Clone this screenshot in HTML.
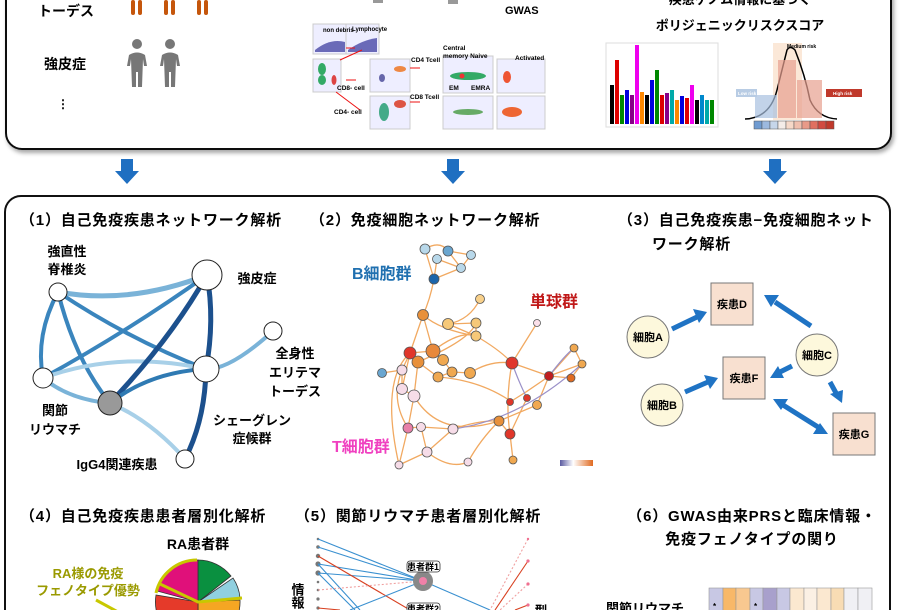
<!DOCTYPE html>
<html><head><meta charset="utf-8"><style>
html,body{margin:0;padding:0;background:#fff;width:900px;height:610px;overflow:hidden}
svg{display:block}
text{font-family:"Liberation Sans","Noto Sans CJK JP",sans-serif;font-weight:bold}
.t{font-size:15px;letter-spacing:0.8px}
</style></head><body>
<svg width="900" height="610" viewBox="0 0 900 610" xmlns="http://www.w3.org/2000/svg">
<defs>
<filter id="sh" x="-5%" y="-5%" width="110%" height="110%"><feDropShadow dx="2" dy="3" stdDeviation="2" flood-color="#000" flood-opacity="0.35"/></filter>
</defs>
<!-- top box -->
<rect x="6" y="-30" width="885" height="179" rx="16" fill="#fff" stroke="#111" stroke-width="2" filter="url(#sh)"/>
<text x="38" y="16" font-size="14">トーデス</text>
<g fill="#c5560c"><rect x="131" y="0" width="4" height="15" rx="2"/><rect x="138" y="0" width="4" height="15" rx="2"/><rect x="164" y="0" width="4" height="15" rx="2"/><rect x="171" y="0" width="4" height="15" rx="2"/><rect x="197" y="0" width="4" height="15" rx="2"/><rect x="204" y="0" width="4" height="15" rx="2"/></g>
<text x="44" y="69" font-size="14">強皮症</text>
<g fill="#777">
<circle cx="137" cy="44" r="5"/><path d="M127 66 L129 55 Q137 50 145 55 L147 66 L144 66 L143 59 L142 87 L138 87 L138 72 L136 72 L136 87 L132 87 L131 59 L130 66Z"/>
<circle cx="170" cy="44" r="5"/><path d="M160 66 L162 55 Q170 50 178 55 L180 66 L177 66 L176 59 L175 87 L171 87 L171 72 L169 72 L169 87 L165 87 L164 59 L163 66Z"/>
</g>
<text x="57" y="108" font-size="12">⋮</text>
<!-- flow cytometry -->
<g font-size="6.5">
<rect x="373" y="0" width="10" height="3" fill="#999"/><rect x="448" y="0" width="10" height="4" fill="#999"/>
<rect x="313" y="24" width="33" height="30" fill="#eef" stroke="#ccc"/><path d="M315 50 Q330 38 345 42 L345 52 L315 52Z" fill="#6a6ab8"/>
<rect x="346" y="24" width="33" height="30" fill="#eef" stroke="#ccc"/><path d="M348 50 Q362 40 377 38 L377 52 L348 52Z" fill="#6a6ab8"/>
<text x="323" y="32" font-size="6">non debris</text><text x="352" y="31" font-size="6">Lymphocyte</text>
<rect x="313" y="59" width="28" height="33" fill="#eef" stroke="#ccc"/><ellipse cx="322" cy="69" rx="4" ry="6" fill="#3a6"/><ellipse cx="322" cy="80" rx="4" ry="5" fill="#3a6"/><ellipse cx="334" cy="80" rx="2.5" ry="5" fill="#d44"/>
<rect x="370" y="59" width="40" height="33" fill="#eef" stroke="#ccc"/><ellipse cx="400" cy="69" rx="6" ry="3" fill="#e84"/><ellipse cx="382" cy="78" rx="3" ry="4" fill="#66a"/>
<rect x="370" y="96" width="40" height="33" fill="#eef" stroke="#ccc"/><ellipse cx="384" cy="112" rx="5" ry="9" fill="#4a8"/><ellipse cx="400" cy="104" rx="6" ry="4" fill="#d54"/>
<rect x="443" y="56" width="50" height="37" fill="#eef" stroke="#ccc"/><ellipse cx="468" cy="76" rx="18" ry="4" fill="#3a6"/><circle cx="462" cy="76" r="2.5" fill="#e33"/>
<rect x="443" y="96" width="50" height="33" fill="#eef" stroke="#ccc"/><ellipse cx="468" cy="112" rx="15" ry="3" fill="#6a6"/>
<rect x="497" y="59" width="48" height="34" fill="#eef" stroke="#ccc"/><ellipse cx="507" cy="77" rx="4" ry="6" fill="#e53"/>
<rect x="497" y="96" width="48" height="33" fill="#eef" stroke="#ccc"/><ellipse cx="512" cy="112" rx="10" ry="5" fill="#e63"/>
<g stroke="#e11" stroke-width="1" fill="none"><path d="M346 48 L355 48"/><path d="M340 60 L362 50"/><path d="M346 80 L356 80"/><path d="M336 92 L360 110"/><path d="M410 68 L420 68"/><path d="M410 102 L420 102"/></g>
<text x="411" y="62">CD4 Tcell</text><text x="443" y="50">Central</text><text x="443" y="58">memory Naive</text><text x="515" y="60">Activated</text>
<text x="337" y="90">CD8- cell</text><text x="410" y="99">CD8 Tcell</text><text x="449" y="90">EM</text><text x="471" y="90">EMRA</text><text x="334" y="114">CD4- cell</text>
</g>
<text x="505" y="14" font-size="11">GWAS</text>
<text x="740" y="4" font-size="13" text-anchor="middle">疾患ゲノム情報に基づく</text>
<text x="740" y="30" font-size="13" text-anchor="middle">ポリジェニックリスクスコア</text>
<!-- manhattan -->
<rect x="606" y="43" width="112" height="84" fill="#fff" stroke="#ddd"/>
<g stroke-width="4">
<line x1="612" y1="124" x2="612" y2="85" stroke="#000"/><line x1="617" y1="124" x2="617" y2="60" stroke="#d00"/><line x1="622" y1="124" x2="622" y2="95" stroke="#080"/><line x1="627" y1="124" x2="627" y2="90" stroke="#00d"/><line x1="632" y1="124" x2="632" y2="95" stroke="#808"/><line x1="637" y1="124" x2="637" y2="45" stroke="#e0e"/><line x1="642" y1="124" x2="642" y2="92" stroke="#f80"/><line x1="647" y1="124" x2="647" y2="95" stroke="#000"/><line x1="652" y1="124" x2="652" y2="80" stroke="#00d"/><line x1="657" y1="124" x2="657" y2="70" stroke="#080"/><line x1="662" y1="124" x2="662" y2="95" stroke="#d00"/><line x1="667" y1="124" x2="667" y2="93" stroke="#808"/><line x1="672" y1="124" x2="672" y2="90" stroke="#0aa"/><line x1="677" y1="124" x2="677" y2="100" stroke="#f80"/><line x1="682" y1="124" x2="682" y2="96" stroke="#00d"/><line x1="687" y1="124" x2="687" y2="98" stroke="#d00"/><line x1="692" y1="124" x2="692" y2="85" stroke="#e0e"/><line x1="697" y1="124" x2="697" y2="100" stroke="#000"/><line x1="702" y1="124" x2="702" y2="95" stroke="#08c"/><line x1="707" y1="124" x2="707" y2="100" stroke="#0aa"/><line x1="712" y1="124" x2="712" y2="100" stroke="#080"/>
</g>
<!-- bell -->
<rect x="773" y="43" width="29" height="77" fill="#fbe8d8"/>
<text x="787" y="48" font-size="5">Medium risk</text>
<path d="M745 119 Q770 118 777 90 Q787 50 787 50 Q790 45 795 50 Q805 75 810 100 Q818 118 837 119" fill="none" stroke="#000" stroke-width="1.5"/>
<g fill="#e8a090" opacity="0.7"><rect x="778" y="60" width="18" height="58"/><rect x="797" y="80" width="25" height="38"/></g>
<g fill="#a8c0e0" opacity="0.7"><rect x="755" y="95" width="22" height="23"/></g>
<rect x="736" y="89" width="21" height="8" fill="#b8cce4"/><text x="738" y="95" font-size="4.5" fill="#fff">Low risk</text>
<rect x="826" y="89" width="36" height="8" fill="#c0392b"/><text x="833" y="95" font-size="4.5" fill="#fff">High risk</text>
<g stroke="#555" stroke-width="0.5"><rect x="754" y="121" width="8" height="8" fill="#6f9bd1"/><rect x="762" y="121" width="8" height="8" fill="#9cb9df"/><rect x="770" y="121" width="8" height="8" fill="#c6d6ea"/><rect x="778" y="121" width="8" height="8" fill="#f4ece8"/><rect x="786" y="121" width="8" height="8" fill="#f6d8c8"/><rect x="794" y="121" width="8" height="8" fill="#f0bfae"/><rect x="802" y="121" width="8" height="8" fill="#e89a88"/><rect x="810" y="121" width="8" height="8" fill="#e07060"/><rect x="818" y="121" width="8" height="8" fill="#d14a40"/><rect x="826" y="121" width="8" height="8" fill="#c0392b"/></g>
<!-- down arrows -->
<g fill="#1f6fc1">
<path d="M121 159 H133 V171 H139 L127 184 L115 171 H121Z"/>
<path d="M447 159 H459 V171 H465 L453 184 L441 171 H447Z"/>
<path d="M769 159 H781 V171 H787 L775 184 L763 171 H769Z"/>
</g>
<!-- main box -->
<rect x="5" y="196" width="885" height="430" rx="16" fill="#fff" stroke="#111" stroke-width="2"/>
<text class="t" x="20" y="225">（1）自己免疫疾患ネットワーク解析</text>
<text class="t" x="310" y="225">（2）免疫細胞ネットワーク解析</text>
<text class="t" x="618" y="225">（3）自己免疫疾患−免疫細胞ネット</text>
<text class="t" x="652" y="249">ワーク解析</text>
<!-- network 1 -->
<g fill="none" stroke-linecap="round">
<path d="M58 292 Q130 305 207 275" stroke="#7ab3d8" stroke-width="5"/>
<path d="M58 292 Q35 335 43 378" stroke="#3a85bd" stroke-width="4"/>
<path d="M58 292 Q75 360 110 403" stroke="#3a85bd" stroke-width="4"/>
<path d="M58 292 Q130 340 206 369" stroke="#3a85bd" stroke-width="4"/>
<path d="M43 378 Q130 330 207 275" stroke="#3a85bd" stroke-width="4"/>
<path d="M43 378 Q120 350 206 369" stroke="#a8d0e8" stroke-width="4"/>
<path d="M43 378 Q70 400 110 403" stroke="#7ab3d8" stroke-width="4"/>
<path d="M110 403 Q170 340 207 275" stroke="#1c508d" stroke-width="5"/>
<path d="M110 403 Q150 372 206 369" stroke="#2f7ab3" stroke-width="4"/>
<path d="M110 403 Q150 420 185 459" stroke="#a8d0e8" stroke-width="4"/>
<path d="M207 275 Q215 320 206 369" stroke="#1c508d" stroke-width="5"/>
<path d="M206 369 Q205 420 185 459" stroke="#1c508d" stroke-width="5"/>
<path d="M206 369 Q230 370 273 331" stroke="#7ab3d8" stroke-width="4"/>
</g>
<g fill="#fff" stroke="#222" stroke-width="1">
<circle cx="58" cy="292" r="9"/><circle cx="207" cy="275" r="15"/><circle cx="273" cy="331" r="9"/><circle cx="206" cy="369" r="13"/><circle cx="43" cy="378" r="10"/><circle cx="110" cy="403" r="12" fill="#999"/><circle cx="185" cy="459" r="9"/>
</g>
<g font-size="13" text-anchor="middle">
<text x="67" y="256">強直性</text><text x="67" y="274">脊椎炎</text>
<text x="257" y="283">強皮症</text>
<text x="295" y="358">全身性</text><text x="295" y="377">エリテマ</text><text x="295" y="396">トーデス</text>
<text x="55" y="415">関節</text><text x="55" y="434">リウマチ</text>
<text x="252" y="425">シェーグレン</text><text x="252" y="443">症候群</text>
<text x="117" y="469">IgG4関連疾患</text>
</g>
<!-- network 2 -->
<g fill="none" stroke="#f0a050" stroke-width="1.3" opacity="0.9">
<path d="M425 249 Q440 240 448 251"/><path d="M425 249 L434 279"/><path d="M448 251 L471 255"/><path d="M448 251 L461 268"/><path d="M437 259 L434 279"/><path d="M461 268 L434 279"/><path d="M471 255 L461 268"/><path d="M437 259 L461 268"/>
<path d="M434 279 Q430 300 423 315"/><path d="M423 315 L410 353"/><path d="M423 315 L433 351"/><path d="M448 324 L476 323"/><path d="M448 324 L476 336"/><path d="M480 299 Q470 320 448 324"/><path d="M476 323 L476 336"/><path d="M423 315 Q440 330 476 336"/>
<path d="M410 353 L433 351"/><path d="M410 353 L418 362"/><path d="M433 351 L443 360"/><path d="M418 362 L438 377"/><path d="M443 360 L452 372"/><path d="M452 372 L470 373"/><path d="M438 377 L452 372"/><path d="M433 351 Q460 330 476 336"/>
<path d="M476 336 Q500 350 512 363"/><path d="M470 373 Q490 360 512 363"/><path d="M512 363 L537 323"/><path d="M512 363 L549 376"/><path d="M512 363 Q505 400 510 434"/><path d="M549 376 L574 348"/><path d="M549 376 L582 364"/><path d="M549 376 L571 378"/><path d="M574 348 L582 364"/><path d="M582 364 L571 378"/>
<path d="M549 376 Q530 390 510 402"/><path d="M537 405 L549 376"/><path d="M537 405 L499 421"/><path d="M527 398 L510 434"/><path d="M499 421 L510 434"/><path d="M510 434 L513 460"/><path d="M499 421 Q480 440 468 462"/>
<path d="M382 373 L402 370"/><path d="M402 370 L410 353"/><path d="M402 370 L402 389"/><path d="M402 389 L414 396"/><path d="M414 396 L418 362"/><path d="M402 389 L410 353"/><path d="M414 396 L408 428"/><path d="M408 428 L421 427"/><path d="M421 427 L453 429"/><path d="M408 428 L399 465"/><path d="M421 427 L427 452"/><path d="M427 452 L399 465"/><path d="M427 452 L453 429"/><path d="M453 429 Q480 420 499 421"/><path d="M427 452 Q450 470 468 462"/>
<path d="M414 396 Q440 440 499 421"/><path d="M438 377 Q480 380 512 402"/><path d="M402 370 Q390 400 408 428"/><path d="M410 353 Q380 380 399 465"/><path d="M418 362 Q470 340 476 323"/>
</g>
<g fill="none" stroke="#9a90c8" stroke-width="1.2">
<path d="M453 429 Q520 420 582 364"/><path d="M512 363 Q520 385 527 398"/><path d="M549 376 Q565 355 574 348"/>
</g>
<g stroke="#555" stroke-width="0.8">
<circle cx="425" cy="249" r="5" fill="#b8d8ea"/><circle cx="448" cy="251" r="5" fill="#6aa6d0"/><circle cx="437" cy="259" r="4.5" fill="#b8d8ea"/><circle cx="471" cy="255" r="4.5" fill="#b8d8ea"/><circle cx="461" cy="268" r="4.5" fill="#b8d8ea"/><circle cx="434" cy="279" r="5" fill="#1c65aa"/>
<circle cx="480" cy="299" r="4.5" fill="#f8d08a"/><circle cx="423" cy="315" r="5.5" fill="#e8903a"/><circle cx="448" cy="324" r="5.5" fill="#f6c878"/><circle cx="476" cy="323" r="5" fill="#f6c878"/><circle cx="476" cy="336" r="5" fill="#f6c878"/>
<circle cx="410" cy="353" r="6" fill="#e0362a"/><circle cx="433" cy="351" r="7" fill="#e8883a"/><circle cx="418" cy="362" r="6" fill="#e8903a"/><circle cx="443" cy="360" r="5.5" fill="#f0a850"/><circle cx="438" cy="377" r="5" fill="#f0a850"/><circle cx="452" cy="372" r="5" fill="#f0a850"/><circle cx="470" cy="373" r="5.5" fill="#f0a850"/>
<circle cx="382" cy="373" r="4.5" fill="#6aa6d0"/><circle cx="402" cy="370" r="5" fill="#f6dce8"/><circle cx="402" cy="389" r="5.5" fill="#f6dce8"/><circle cx="414" cy="396" r="6" fill="#f6dce8"/>
<circle cx="512" cy="363" r="6" fill="#e0362a"/><circle cx="537" cy="323" r="3.5" fill="#fbe0ea"/><circle cx="574" cy="348" r="4" fill="#f0a850"/><circle cx="582" cy="364" r="4" fill="#f0a850"/><circle cx="549" cy="376" r="4.5" fill="#c01e1e"/><circle cx="571" cy="378" r="4" fill="#e06a20"/>
<circle cx="510" cy="402" r="3.5" fill="#e0362a"/><circle cx="527" cy="398" r="3.5" fill="#e0362a"/><circle cx="537" cy="405" r="4.5" fill="#f0a850"/><circle cx="499" cy="421" r="5" fill="#e8903a"/><circle cx="510" cy="434" r="5" fill="#e0362a"/><circle cx="513" cy="460" r="4" fill="#f0a850"/>
<circle cx="408" cy="428" r="5" fill="#e880a8"/><circle cx="421" cy="427" r="4.5" fill="#f6dce8"/><circle cx="453" cy="429" r="5" fill="#f6dce8"/><circle cx="427" cy="452" r="5" fill="#f6dce8"/><circle cx="468" cy="462" r="4" fill="#f6dce8"/><circle cx="399" cy="465" r="4" fill="#f6dce8"/>
</g>
<defs><linearGradient id="cb"><stop offset="0" stop-color="#5a5aa0"/><stop offset="0.4" stop-color="#fff"/><stop offset="1" stop-color="#e06a20"/></linearGradient></defs>
<rect x="560" y="460" width="33" height="6" fill="url(#cb)"/>
<text x="352" y="279" font-size="16" fill="#2070b0">B細胞群</text>
<text x="530" y="307" font-size="16" fill="#c01818">単球群</text>
<text x="332" y="452" font-size="16" fill="#f040c0">T細胞群</text>
<!-- network 3 -->
<g fill="#1f73c4" stroke="#1f73c4" stroke-width="5" stroke-linecap="butt">
<line x1="672" y1="329" x2="697" y2="317"/><path d="M707 312 L693 309 L699 323Z" stroke="none"/>
<line x1="811" y1="326" x2="775" y2="302"/><path d="M764 295 L779 295 L771 307Z" stroke="none"/>
<line x1="792" y1="366" x2="780" y2="372"/><path d="M770 378 L778 366 L784 378Z" stroke="none"/>
<line x1="685" y1="392" x2="708" y2="382"/><path d="M718 378 L704 375 L710 389Z" stroke="none"/>
<line x1="830" y1="382" x2="836" y2="393"/><path d="M842 403 L830 394 L843 390Z" stroke="none"/>
<line x1="783" y1="405" x2="818" y2="427"/><path d="M773 399 L788 399 L781 410Z" stroke="none"/><path d="M828 434 L813 434 L820 423Z" stroke="none"/>
</g>
<g fill="#f8e0d0" stroke="#777" stroke-width="1">
<rect x="711" y="283" width="42" height="42"/><rect x="723" y="357" width="42" height="42"/><rect x="833" y="413" width="42" height="42"/>
</g>
<g fill="#fdf8dc" stroke="#777" stroke-width="1">
<circle cx="648" cy="337" r="21"/><circle cx="662" cy="405" r="21"/><circle cx="817" cy="355" r="21"/>
</g>
<g font-size="11" text-anchor="middle">
<text x="732" y="308">疾患D</text><text x="744" y="382">疾患F</text><text x="854" y="438">疾患G</text>
<text x="648" y="341">細胞A</text><text x="662" y="409">細胞B</text><text x="817" y="359">細胞C</text>
</g>
<!-- bottom titles -->
<text class="t" x="20" y="521">（4）自己免疫疾患患者層別化解析</text>
<text class="t" x="295" y="521">（5）関節リウマチ患者層別化解析</text>
<text class="t" x="752" y="521" text-anchor="middle">（6）GWAS由来PRSと臨床情報・</text>
<text class="t" x="752" y="544" text-anchor="middle">免疫フェノタイプの関り</text>
<!-- pie -->
<text x="198" y="549" font-size="14" text-anchor="middle">RA患者群</text>
<g stroke="#333" stroke-width="0.8">
<path d="M198 602 L198 560 A42 42 0 0 1 231 576Z" fill="#0a9040"/>
<path d="M198 602 L233 578 A42 42 0 0 1 240 598Z" fill="#90d0e0"/>
<path d="M198 602 L240 600 A42 42 0 0 1 198 644Z" fill="#f5a623"/>
<path d="M198 602 L198 644 A42 42 0 0 1 156 595Z" fill="#e53a2a"/>
<path d="M198 602 L157 591 A42 42 0 0 1 198 560Z" fill="#e0107a"/>
</g>
<path d="M197 560 A42 42 0 0 0 156 593 M160 584 L198 602 L242 598" fill="none" stroke="#c8c800" stroke-width="3"/>
<text x="88" y="578" font-size="13" fill="#9a9a00" text-anchor="middle">RA様の免疫</text>
<text x="88" y="595" font-size="13" fill="#9a9a00" text-anchor="middle">フェノタイプ優勢</text>
<line x1="96" y1="600" x2="118" y2="612" stroke="#c8c800" stroke-width="3"/>
<!-- (5) -->
<g fill="#777"><circle cx="318" cy="539" r="1.3"/><circle cx="318" cy="547" r="1.8"/><circle cx="318" cy="556" r="2.2"/><circle cx="318" cy="564" r="2.6"/><circle cx="318" cy="573" r="2.6"/><circle cx="318" cy="582" r="1.3"/><circle cx="318" cy="590" r="1.3"/><circle cx="318" cy="599" r="1.6"/><circle cx="318" cy="608" r="1.6"/></g>
<g fill="none" stroke-width="1.1">
<path d="M318 539 L423 581" stroke="#3a90d0"/><path d="M318 547 L423 581" stroke="#3a90d0"/><path d="M318 564 L423 581" stroke="#3a90d0"/><path d="M318 573 L423 581" stroke="#3a90d0"/><path d="M318 556 L410 610" stroke="#d84020"/><path d="M318 564 L360 610" stroke="#3a90d0"/><path d="M318 573 L355 610" stroke="#3a90d0"/><path d="M423 581 L350 610" stroke="#3a90d0"/><path d="M423 581 L490 610" stroke="#3a90d0"/><path d="M318 608 L340 610" stroke="#d84020"/>
<path d="M318 590 L423 581" stroke="#f0a0a0" stroke-dasharray="2 2"/><path d="M528 539 L490 610" stroke="#f0a0a0" stroke-dasharray="2 2"/><path d="M528 561 L495 610" stroke="#d84020"/><path d="M528 584 L500 610" stroke="#f0a0a0" stroke-dasharray="2 2"/><path d="M528 605 L515 610" stroke="#d84020"/>
</g>
<g fill="#f07090"><circle cx="528" cy="539" r="1.2"/><circle cx="528" cy="561" r="1.6"/><circle cx="528" cy="584" r="1.6"/><circle cx="528" cy="605" r="1.6"/></g>
<circle cx="423" cy="581" r="10" fill="#888"/><circle cx="423" cy="581" r="4" fill="#f080a8"/>
<rect x="407" y="561" width="33" height="11" rx="3" fill="#fff" stroke="#333" stroke-width="0.8"/><text x="423" y="570" font-size="9" text-anchor="middle">患者群1</text>
<rect x="407" y="603" width="33" height="11" rx="3" fill="#fff" stroke="#333" stroke-width="0.8"/><text x="423" y="612" font-size="9" text-anchor="middle">患者群2</text>
<text x="297" y="583" font-size="13" writing-mode="tb">情報</text>
<text x="540" y="604" font-size="13" writing-mode="tb">型</text>
<!-- (6) heatmap -->
<text x="645" y="613" font-size="13" text-anchor="middle">関節リウマチ</text>
<g stroke="#999" stroke-width="0.6">
<rect x="709" y="588" width="14" height="25" fill="#c8c8e4"/><rect x="723" y="588" width="13" height="25" fill="#f8b868"/><rect x="736" y="588" width="14" height="25" fill="#f8c890"/><rect x="750" y="588" width="13" height="25" fill="#c8c8e4"/><rect x="763" y="588" width="14" height="25" fill="#a8a0cc"/><rect x="777" y="588" width="13" height="25" fill="#c8c8e4"/><rect x="790" y="588" width="14" height="25" fill="#fbe8d0"/><rect x="804" y="588" width="13" height="25" fill="#fbf0e4"/><rect x="817" y="588" width="14" height="25" fill="#fbe8d0"/><rect x="831" y="588" width="13" height="25" fill="#f8dcb4"/><rect x="844" y="588" width="14" height="25" fill="#f0f0f4"/><rect x="858" y="588" width="14" height="25" fill="#f0f0f4"/>
</g>
<text x="713" y="609" font-size="8">*</text><text x="754" y="609" font-size="8">*</text>
</svg>
</body></html>
